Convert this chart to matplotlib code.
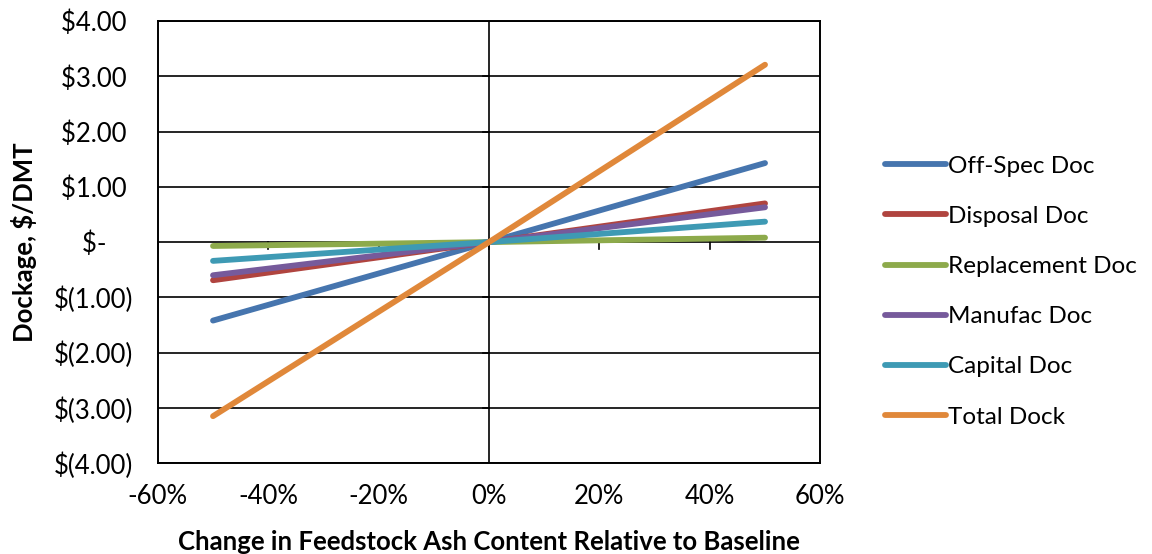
import matplotlib
matplotlib.use("Agg")
import matplotlib.pyplot as plt
from matplotlib.ticker import FuncFormatter

plt.rcParams['font.family'] = ['Lato', 'DejaVu Sans']

# change in ash content (fraction)
ash_change = [-0.5, 0.0, 0.5]

series_names = ["Off-Spec Doc", "Disposal Doc", "Replacement Doc",
                "Manufac Doc", "Capital Doc", "Total Dock"]
off_spec = [-1.42, 0.0, 1.43]
disposal = [-0.69, 0.0, 0.70]
replacement = [-0.07, 0.0, 0.08]
manufac = [-0.60, 0.0, 0.63]
capital = [-0.34, 0.0, 0.37]
total = [-3.15, 0.0, 3.21]

colors = ["#4675AE", "#B0443F", "#8DAA4B", "#765A9B", "#3E9AB4", "#E0883A"]

x_ticks = [-0.6, -0.4, -0.2, 0.0, 0.2, 0.4, 0.6]
y_ticks = [-4, -3, -2, -1, 0, 1, 2, 3, 4]

fig = plt.figure(figsize=(11.52, 5.54), dpi=100)
ax = fig.add_axes([0.137, 0.164, 0.575, 0.798])

# gridlines and axis through zero
for y in y_ticks:
    ax.axhline(y, color="black", lw=1.2, zorder=1)
ax.axvline(0, color="black", lw=1.2, zorder=1)

# small tick marks on the zero lines (excel style)
for xt in x_ticks:
    ax.plot([xt, xt], [0, -0.13], color="black", lw=1.2, zorder=1, clip_on=False)
for yt in y_ticks:
    ax.plot([0, -0.011], [yt, yt], color="black", lw=1.2, zorder=1)

data = [off_spec, disposal, replacement, manufac, capital, total]
for name, vals, c in zip(series_names, data, colors):
    ax.plot(ash_change, vals, color=c, lw=4.2, solid_capstyle="round",
            label=name, zorder=3)

ax.set_xlim(-0.6, 0.6)
ax.set_ylim(-4, 4)
ax.set_xticks(x_ticks)
ax.set_yticks(y_ticks)
ax.tick_params(length=0, labelsize=18.5)
ax.tick_params(axis="y", pad=18)
ax.tick_params(axis="x", pad=15)


def money(v, pos):
    if abs(v) < 1e-9:
        return "$-    "
    if v < 0:
        return "$(%.2f)" % abs(v)
    return "$%.2f " % v


ax.yaxis.set_major_formatter(FuncFormatter(money))
ax.xaxis.set_major_formatter(FuncFormatter(lambda v, p: "%d%%" % round(v * 100)))

for s in ax.spines.values():
    s.set_linewidth(1.4)
    s.set_color("black")

ax.set_xlabel("Change in Feedstock Ash Content Relative to Baseline",
              fontsize=18.5, fontweight="bold", labelpad=15)
ax.set_ylabel("Dockage, $/DMT", fontsize=18.5, fontweight="bold", labelpad=12)

leg = ax.legend(loc="center left", bbox_to_anchor=(1.098, 0.388), frameon=False,
                fontsize=17.5, handlelength=2.5, handletextpad=0.1,
                labelspacing=1.2, borderpad=0, borderaxespad=0)

fig.savefig("out.png", dpi=100)
